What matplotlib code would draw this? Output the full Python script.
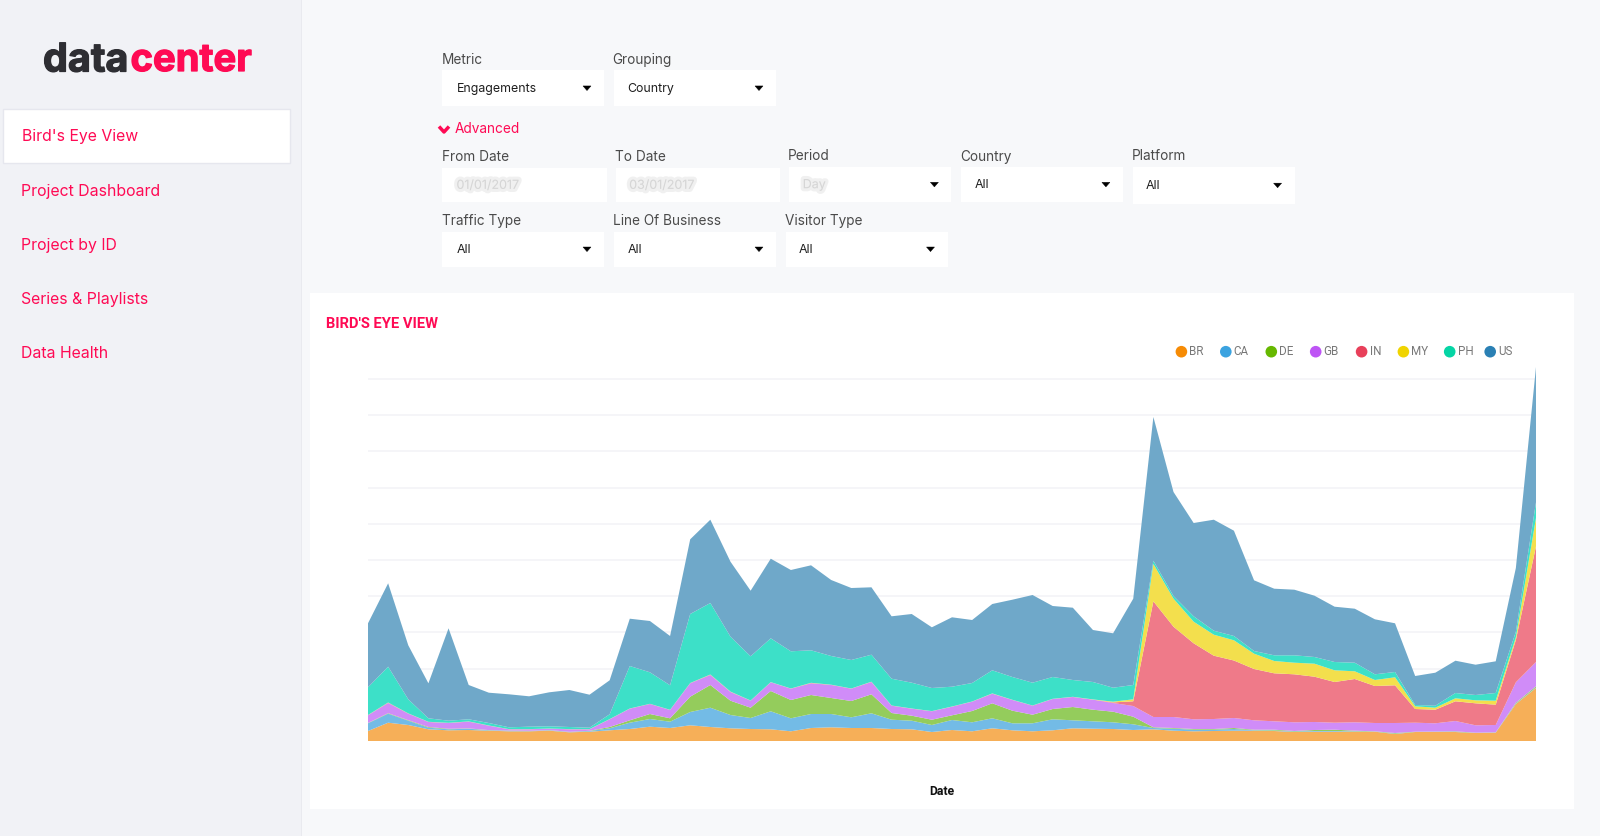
import numpy as np
import matplotlib
matplotlib.use("Agg")
import matplotlib.pyplot as plt
from matplotlib.patches import Rectangle, Circle, Polygon
import matplotlib.patheffects as pe

# ---- data: top edge of each stacked layer, per day (59 days) ----
countries = ["BR", "CA", "DE", "GB", "IN", "MY", "PH", "US"]
br_top = [10,18.3,16,11.7,10.7,11,10.3,9.7,9.7,10.3,8.7,9.3,10.7,12,14.3,13,15.7,14,12.7,12,11.7,9.7,13,13.7,13,13,12,11.7,9,11,9.7,12.7,10.7,9.7,10.7,12.7,12.3,12,11,11.7,10.3,9.7,10,10.3,10.3,10,9,9.3,9.3,9.3,9.3,7,9,9,9,8,8.3,37,53]
ca_top = [17.7,27.3,20.3,13.3,11.7,12.3,10.7,10.3,10,10.7,9,10,12.7,18.3,22,19.3,29,33.3,26,23,29.7,22.7,27,27,23.7,27.7,21.3,20.3,16,21,18.7,22.7,17.7,17.7,21.7,20.7,19.7,18.7,16.7,13,12.3,11.3,11.3,12,10.8,10.5,9.5,10,10,9.7,9.5,7.4,9.1,9.3,9.3,8.1,8.5,37.5,53.5]
de_top = [18,27.8,20.8,14,12.2,12.6,10.9,10.5,10.2,10.9,9.2,10.2,14,20.7,27,22.7,44.3,56,40.3,33.3,50,41,46,43,40,46.7,28,25.3,21.3,25.7,30,37.7,30.3,26.3,32,34,31.3,29.3,24.3,13.7,13,12,12,13,11.3,11.3,10,11,11.3,10.3,9.7,8,9.3,9.5,9.7,8.3,8.7,38.3,54.7]
gb_top = [25.7,38,27.3,19,18,19.3,15.3,11.7,11.7,12.3,11.7,11.7,21.7,32.3,37,31,57.7,66,49,40.3,58.7,52.3,57.7,56,52.3,59,35.3,32.3,29.7,34.3,39.3,47.3,41,35.3,42,44,41.3,38,35,24,24,21.7,22,23,20.7,19.7,18.7,19,18.3,18.7,18,18,18.3,17.7,20,15.7,16,58.7,79]
in_top = [25.9,38.3,27.5,19.1,18.1,19.5,15.4,11.8,11.8,12.4,11.8,11.8,21.8,32.4,37.1,31.1,57.9,66.3,49.2,40.4,58.8,52.4,58,56.2,52.4,59.2,35.4,32.4,29.8,34.4,39.4,47.4,41.1,35.4,42.1,44.1,41.4,38.6,39.7,139.7,114.3,97.7,85.3,80.5,72,67.7,66.7,64.3,59,62,55,55.7,32,31.3,39.7,37.7,36.3,101,194.7]
my_top = [26,38.5,27.6,19.2,18.2,19.6,15.5,11.9,11.9,12.5,11.9,11.9,21.9,32.5,37.2,31.2,58,66.5,49.4,40.5,58.9,52.5,58.2,56.3,52.5,59.3,35.5,32.5,29.9,34.5,39.5,47.6,41.2,35.5,42.2,44.2,41.6,39.3,41.7,177,142.3,119.3,106.3,100.7,87.3,80,78.3,77.3,70.7,69.7,61,63.7,34.7,33.3,42.7,40.7,40.3,103.7,223]
ph_top = [53.7,74.3,41.7,22.7,20.3,21.7,18,13.7,14.3,14.7,14,13.3,26.7,75,68.7,55.7,127,138,104.3,84.7,102.7,89.7,90.7,85,81,86.3,62.3,58.3,53,54.3,58,70.7,64,58.3,64,61,59,53.3,56,180.3,145,124.7,110.3,105,90,85.7,85.7,84,79,78.3,66.7,69,36,35.3,48,46,48,109.3,238.7]
us_top = [117.7,157.7,95.7,57.7,112.7,56,48.3,46.7,44.7,48.7,51,46.3,60.7,122.3,120,105,201.7,221.3,179.3,150.3,182.3,171,175.7,161,153,153.7,124.7,127,113.7,123.7,121,137,141.3,146,135,133.3,111,107.7,142.3,324,249,218,221.3,210.3,160.7,152.3,151.3,145.3,134.3,132.3,121.7,117.7,65,68.3,80.3,76.3,79.7,173,374]
layer_tops = [br_top, ca_top, de_top, gb_top, in_top, my_top, ph_top, us_top]
fill_colors = ["#F6AF58", "#73BBE6", "#94CC5C", "#D08CF8", "#EF7A89", "#F3DF4D", "#3DE0C8", "#6FA8C9"]
legend_colors = ["#F68B05", "#3BA3E0", "#66B800", "#BE55F5", "#E8405A", "#F0D400", "#05D5A5", "#2A80B4"]
legend_dot_x = [1181.4, 1225.8, 1271.3, 1315.7, 1361.6, 1403.4, 1449.7, 1490.2]
grid_count = 11
grid_step = 36.2

nav_items = ["Bird's Eye View", "Project Dashboard", "Project by ID", "Series & Playlists", "Data Health"]
nav_y = [136.5, 191.5, 245.5, 299.5, 353.5]

# label, option, box x0, x1, y0, y1, label y, blurred, has arrow
filters = [
    ("Metric", "Engagements", 442, 604, 70.3, 106, 60, False, True),
    ("Grouping", "Country", 613.8, 776, 70.3, 106, 60, False, True),
    ("From Date", "01/01/2017", 442, 606.5, 168, 202.3, 157, True, False),
    ("To Date", "03/01/2017", 615.8, 779.6, 168, 202.3, 157, True, False),
    ("Period", "Day", 789.3, 951.4, 166.7, 202.3, 156.5, True, True),
    ("Country", "All", 961, 1122.9, 166.7, 202.3, 156.5, False, True),
    ("Platform", "All", 1132.5, 1294.6, 166.7, 204, 156.5, False, True),
    ("Traffic Type", "All", 442, 604, 231.7, 266.7, 221, False, True),
    ("Line Of Business", "All", 613.8, 776, 231.7, 266.7, 221, False, True),
    ("Visitor Type", "All", 785.7, 947.5, 231.7, 266.7, 221, False, True),
]

PINK = "#FF0A54"
FONT = "Inter"
W, H = 1600, 836
fig = plt.figure(figsize=(W / 100, H / 100), dpi=100, facecolor="#F7F8FA")

# page layer in pixel coordinates
ui = fig.add_axes([0, 0, 1, 1])
ui.set_xlim(0, W)
ui.set_ylim(H, 0)
ui.axis("off")


def box(x0, y0, x1, y1, fc, ec="none", lw=0, z=1):
    ui.add_patch(Rectangle((x0, y0), x1 - x0, y1 - y0, facecolor=fc, edgecolor=ec, linewidth=lw, zorder=z))


def label(x, y, s, size, color, weight="normal", family=FONT, **kw):
    return ui.text(x, y, s, fontsize=size, color=color, fontweight=weight, family=family,
                   va="center", ha=kw.pop("ha", "left"), zorder=5, **kw)


box(0, 0, 301, H, "#F1F2F6")
box(301, 0, 302, H, "#E9EAEF")
box(2.5, 108.7, 290, 163.3, "#FFFFFF", "#E6E7EE", 1)

t1 = label(43, 61, "data", 28.5, "#2E2E33", weight="bold")
t2 = label(130.5, 61, "center", 27.5, PINK, weight="bold")
t1.set_path_effects([pe.withStroke(linewidth=0.9, foreground="#2E2E33")])
t2.set_path_effects([pe.withStroke(linewidth=0.9, foreground=PINK)])

for i, (s, y) in enumerate(zip(nav_items, nav_y)):
    label(22.5 if i == 0 else 21.4, y, s, 11.4, PINK)

for name, opt, x0, x1, y0, y1, ly, blur, arrow in filters:
    box(x0, y0, x1, y1, "#FFFFFF")
    shift = 0 if x0 == 442 else 1.1
    label(x0 - shift, ly, name, 9.8, "#4A4A4A")
    ym = (y0 + y1) / 2
    tx = x0 + 14.5 - shift
    if blur:
        t = label(tx, ym + 0.7, opt, 9.0, "#D6D6D6")
        t.set_path_effects([pe.Stroke(linewidth=4.5, foreground="#CFCFCF", alpha=0.3), pe.Normal()])
    else:
        label(tx, ym + 0.7, opt, 8.9, "#1E1E1E")
    if arrow:
        ax_ = x1 - 17
        ui.add_patch(Polygon([(ax_ - 4, ym - 2.2), (ax_ + 4, ym - 2.2), (ax_, ym + 2.4)], closed=True,
                             facecolor="#000000", edgecolor="#000000", linewidth=0.3, zorder=5))

# advanced toggle
ui.plot([439, 444, 449], [126.5, 132, 126.5], color=PINK, lw=2.5, solid_capstyle="butt", zorder=5)
label(454.6, 129, "Advanced", 9.8, PINK)

# chart card
box(310, 293, 1574, 809, "#FFFFFF")
label(326, 324, "BIRD'S EYE VIEW", 10.6, PINK, weight="bold", family="Roboto")

for name, col, dx in zip(countries, legend_colors, legend_dot_x):
    ui.add_patch(Circle((dx, 351.7), 5.8, facecolor=col, edgecolor="none", zorder=5))
    label(dx + 8, 351.7, name, 8.4, "#777777", family="Roboto")

# chart
left, right, top, bottom = 368, 1536, 367, 741
ax = fig.add_axes([left / W, 1 - bottom / H, (right - left) / W, (bottom - top) / H])
ax.patch.set_alpha(0)
days = np.arange(len(br_top))
lower = np.zeros(len(days))
for tops, col in zip(layer_tops, fill_colors):
    tops = np.asarray(tops, dtype=float)
    ax.fill_between(days, lower, tops, facecolor=col, edgecolor="none", linewidth=0, zorder=3)
    lower = tops
ax.set_xlim(0, len(days) - 1)
ax.set_ylim(0, bottom - top)
ax.set_yticks(np.arange(grid_count) * grid_step)
ax.set_xticks([])
ax.tick_params(left=False, labelleft=False)
ax.grid(axis="y", color="#F2F3F6", linewidth=1.1, zorder=1)
for s in ax.spines.values():
    s.set_visible(False)
ax.set_xlabel("Date", fontsize=8.8, fontweight="bold", family="Roboto", color="#111111")
ax.xaxis.set_label_coords(0.4914, -0.118)

fig.savefig("out.png", dpi=100, facecolor=fig.get_facecolor())
